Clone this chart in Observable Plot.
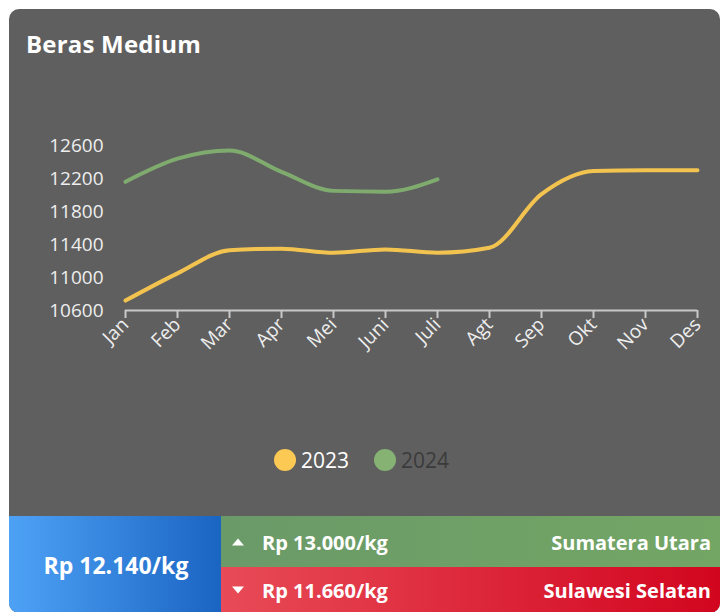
<!DOCTYPE html>
<html>
<head>
<meta charset="utf-8">
<script src="https://cdn.jsdelivr.net/npm/d3@7"></script>
<script src="https://cdn.jsdelivr.net/npm/@observablehq/plot@0.6"></script>
<style>
  html, body { margin: 0; padding: 0; background: #ffffff; width: 724px; height: 612px; overflow: hidden; }
  body { font-family: "Open Sans", "Noto Sans", sans-serif; }
  #card { position: absolute; left: 9px; top: 9px; width: 711px; height: 604px; background: #5f5f5f; border-radius: 10px; overflow: hidden; }
  #title { position: absolute; left: 17px; top: 18px; color: #ffffff; font-weight: 700; font-size: 24px; letter-spacing: 0.2px; }
  #chart { position: absolute; left: 0; top: 101px; }
  #legend { position: absolute; left: 0; top: 437px; width: 711px; height: 30px; }
  .lg { position: absolute; top: 0; display: flex; align-items: center; font-size: 21px; }
  .dot { width: 22px; height: 22px; border-radius: 50%; margin-right: 5px; }
  #avg { position: absolute; left: 0; top: 507px; width: 212px; height: 97px; background: linear-gradient(to right, #4ea2f6, #1a64c2); color: #fff; font-weight: 700; font-size: 23px; display: flex; align-items: center; justify-content: center; padding-left: 2px; box-sizing: border-box; }
  .row { position: absolute; left: 212px; width: 499px; color: #fff; font-weight: 700; font-size: 20px; }
  .row .l { position: absolute; left: 11px; top: 50%; transform: translateY(-50%); display: flex; align-items: center; }
  .row .r { position: absolute; right: 9px; top: 50%; transform: translateY(-50%); }
  .tri { display: inline-block; width: 0; height: 0; border-left: 6px solid transparent; border-right: 6px solid transparent; margin-right: 18px; }
  #hi { top: 507px; height: 51px; background: linear-gradient(to right, #6a9a68, #73a665); }
  #lo { top: 558px; height: 46px; background: linear-gradient(to right, #e84b57, #d2051f); }
</style>
</head>
<body>
<div id="card">
  <div id="title"></div>
  <div id="chart"></div>
  <div id="legend"></div>
  <div id="avg"></div>
  <div class="row" id="hi"></div>
  <div class="row" id="lo"></div>
</div>
<script>
const months = ["Jan","Feb","Mar","Apr","Mei","Juni","Juli","Agt","Sep","Okt","Nov","Des"];
const values2023 = [10720, 11050, 11330, 11350, 11300, 11340, 11300, 11360, 12010, 12290, 12300, 12300];
const values2024 = [12160, 12440, 12540, 12280, 12050, 12040, 12190];
const yTicks = [10600, 11000, 11400, 11800, 12200, 12600];
const seriesNames = ["2023", "2024"];
const seriesColors = ["#f3c350", "#7fab6e"];
const legendColors = ["#fdc955", "#86b273"];
const legendTextColors = ["#ffffff", "#3b3b3b"];
const title = "Beras Medium";
const avgPrice = "Rp 12.140/kg";
const highPrice = "Rp 13.000/kg";
const highRegion = "Sumatera Utara";
const lowPrice = "Rp 11.660/kg";
const lowRegion = "Sulawesi Selatan";

const data = [];
values2023.forEach((v, i) => data.push({month: months[i], value: v, series: seriesNames[0]}));
values2024.forEach((v, i) => data.push({month: months[i], value: v, series: seriesNames[1]}));

const plot = Plot.plot({
  width: 711,
  height: 260,
  marginLeft: 116,
  marginRight: 23,
  marginTop: 35,
  marginBottom: 60,
  style: { background: "transparent", color: "#eeeeee", fontFamily: "'Open Sans', 'Noto Sans', sans-serif", fontSize: "19px" },
  x: { type: "point", domain: months, padding: 0 },
  y: { domain: [10600, 12600] },
  color: { domain: seriesNames, range: seriesColors },
  marks: [
    Plot.axisY({ ticks: yTicks, tickSize: 0, tickPadding: 22, tickFormat: d => String(d), label: null, fontSize: 19 }),
    Plot.axisX({ tickRotate: -45, tickSize: 8, tickPadding: 3, label: null, stroke: "#c8c8c8", strokeWidth: 2, fontSize: 19 }),
    Plot.ruleY([10600], { stroke: "#c8c8c8", strokeWidth: 2 }),
    Plot.line(data, { x: "month", y: "value", z: "series", stroke: "series", strokeWidth: 4, curve: "monotone-x" })
  ]
});
document.getElementById("chart").appendChild(plot);

document.getElementById("title").textContent = title;

const legend = document.getElementById("legend");
const lgX = [265, 365];
seriesNames.forEach((name, i) => {
  const item = document.createElement("div");
  item.className = "lg";
  item.style.left = lgX[i] + "px";
  item.style.color = legendTextColors[i];
  const dot = document.createElement("div");
  dot.className = "dot";
  dot.style.background = legendColors[i];
  const t = document.createElement("span");
  t.textContent = name;
  item.appendChild(dot);
  item.appendChild(t);
  legend.appendChild(item);
});

document.getElementById("avg").textContent = avgPrice;
function fillRow(id, price, region, up) {
  const row = document.getElementById(id);
  const l = document.createElement("div"); l.className = "l";
  const tri = document.createElement("span"); tri.className = "tri";
  if (up) tri.style.borderBottom = "7px solid #fff"; else tri.style.borderTop = "7px solid #fff";
  const p = document.createElement("span"); p.textContent = price;
  l.appendChild(tri); l.appendChild(p);
  const r = document.createElement("div"); r.className = "r"; r.textContent = region;
  row.appendChild(l); row.appendChild(r);
}
fillRow("hi", highPrice, highRegion, true);
fillRow("lo", lowPrice, lowRegion, false);
</script>
</body>
</html>
